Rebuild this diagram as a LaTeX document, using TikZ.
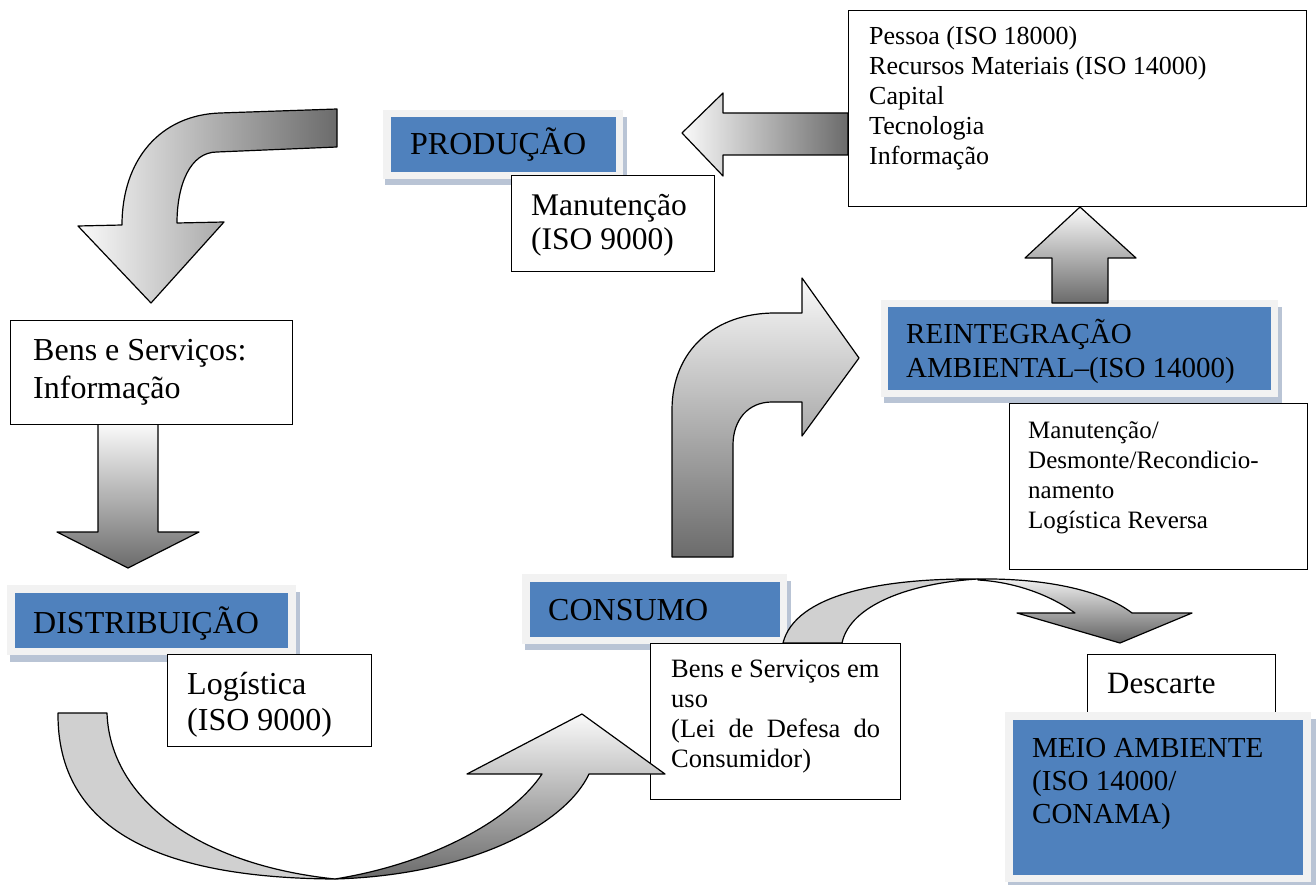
\documentclass[tikz,border=0pt]{standalone}
\usepackage{fontspec}
\setmainfont{Liberation Serif}
\definecolor{boxblue}{HTML}{4F81BD}
\definecolor{framegray}{HTML}{F2F2F2}
\definecolor{shadowblue}{HTML}{B9C4D5}
\definecolor{backgray}{HTML}{D0D0D0}
\definecolor{arrowlight}{HTML}{FAFAFA}
\definecolor{arrowdark}{HTML}{6B6B6B}
\tikzset{
  wbox/.style={draw=black, line width=1.4pt, fill=white, inner sep=0pt, anchor=north west},
  bbox/.style={fill=boxblue, inner sep=0pt, anchor=north west},
  bframe/.style={fill=framegray},
  shadowstrip/.style={fill=shadowblue},
  barrow/.style={draw=black, line width=1.2pt, line join=round},
  vgrad/.style={barrow, top color=arrowlight, bottom color=arrowdark},
  hgrad/.style={barrow, left color=arrowlight, right color=arrowdark},
  backface/.style={barrow, fill=backgray},
  txt/.style={inner sep=0pt, anchor=base west},
  sizeL/.style={txt, font=\fontsize{32}{38}\selectfont},
  sizeM/.style={txt, font=\fontsize{29}{34}\selectfont},
  sizeS/.style={txt, font=\fontsize{26}{30}\selectfont},
}
\begin{document}
\begin{tikzpicture}[x=1pt, y=-1pt]
\useasboundingbox (0,0) rectangle (1316,885);

% ---- blue title boxes: shadow, light frame, blue panel
\fill[shadowstrip] (385,117) rectangle (627,185);
\fill[bframe] (383,110) rectangle (623,179);
\node[bbox, minimum width=225pt, minimum height=55pt] (producao) at (391,117) {};

\fill[shadowstrip] (10,592) rectangle (300,662);
\fill[bframe] (7,585) rectangle (296,655);
\node[bbox, minimum width=273pt, minimum height=55pt] (distribuicao) at (15,593) {};

\fill[shadowstrip] (525,581) rectangle (791,650);
\fill[bframe] (522,574) rectangle (787,644);
\node[bbox, minimum width=250pt, minimum height=55pt] (consumo) at (530,582) {};

\fill[shadowstrip] (884,307) rectangle (1282,403);
\fill[bframe] (881,300) rectangle (1278,397);
\node[bbox, minimum width=383pt, minimum height=83pt] (reintegracao) at (888,307) {};

% ---- block arrows
% curved arrow from the top, turning down towards "Bens e Serviços"
\shadedraw[hgrad] (337,109) -- (220,113) .. controls (160,115) and (122,160) .. (122,225)
  -- (78,226) -- (151,303) -- (224,222) -- (177,223)
  .. controls (177,185) and (190,152) .. (217,152) -- (337,147) -- cycle;
% straight arrow down to DISTRIBUIÇÃO
\shadedraw[vgrad] (98,424) -- (98,532) -- (57,532) -- (128,568) -- (199,532)
  -- (158,532) -- (158,424) -- cycle;
% curved arrow from CONSUMO up to REINTEGRAÇÃO
\shadedraw[vgrad] (672,557) -- (672,410) .. controls (672,350) and (715,313) .. (775,313)
  -- (802,313) -- (802,278) -- (859,358) -- (802,436) -- (802,402) -- (772,402)
  .. controls (748,402) and (733,420) .. (733,445) -- (733,557) -- cycle;
% arrow up to the resources box
\shadedraw[vgrad] (1052,303) -- (1052,258) -- (1025,258) -- (1080,207) -- (1136,258)
  -- (1108,258) -- (1108,303) -- cycle;
% arrow left to PRODUÇÃO
\shadedraw[hgrad] (848,113) -- (723,113) -- (723,93) -- (682,133) -- (723,176)
  -- (723,155) -- (848,155) -- cycle;
% arc from the consumption box down to Descarte
\filldraw[backface] (783,643) .. controls (795,595) and (880,578) .. (978,579)
  .. controls (910,583) and (850,605) .. (842,643) -- cycle;
\shadedraw[barrow, top color=framegray, bottom color=arrowdark!90!black]
  (978,579) .. controls (1050,578) and (1105,592) .. (1132,613)
  -- (1192,613) -- (1120,643) -- (1017,613) -- (1075,613)
  .. controls (1050,595) and (1015,582) .. (978,580) -- cycle;

% ---- white text boxes
\node[wbox, minimum width=458pt, minimum height=196pt] (recursos) at (848,10) {};
\node[wbox, minimum width=203pt, minimum height=96pt] (manut) at (511,175) {};
\node[wbox, minimum width=282pt, minimum height=104pt] (bens) at (10,320) {};
\node[wbox, minimum width=204pt, minimum height=92pt] (logistica) at (167,654) {};
\node[wbox, minimum width=250pt, minimum height=156pt] (emuso) at (650,643) {};
\node[wbox, minimum width=298pt, minimum height=166pt] (desmonte) at (1009,403) {};
\node[wbox, minimum width=188pt, minimum height=70pt] (descarte) at (1087,654) {};

% MEIO AMBIENTE panel sits over the lower part of Descarte
\fill[shadowstrip] (1008,719) rectangle (1316,885);
\fill[bframe] (1005,712) rectangle (1311,882);
\node[bbox, minimum width=290pt, minimum height=155pt] (meio) at (1013,720) {};

% curved arrow from DISTRIBUIÇÃO round to the consumption box
\filldraw[backface] (58,713) -- (107,713) .. controls (110,800) and (200,865) .. (335,879)
  .. controls (160,878) and (57,830) .. (58,713) -- cycle;
\shadedraw[vgrad] (335,879) .. controls (440,862) and (515,815) .. (542,774)
  -- (467,774) -- (582,714) -- (665,774) -- (589,774)
  .. controls (565,825) and (470,875) .. (335,879) -- cycle;

% ---- texts
\node[sizeL] (t-producao) at (410,155) {PRODUÇÃO};
\node[sizeL] (t-distribuicao) at (33,633) {DISTRIBUIÇÃO};
\node[sizeL] (t-consumo) at (548,620) {CONSUMO};
\node[sizeM] (t-reintegracao) at (906,343)
  {\begin{tabular}[t]{@{}l@{}}REINTEGRAÇÃO\\AMBIENTAL–(ISO 14000)\end{tabular}};
\node[txt, font=\fontsize{29}{33}\selectfont] (t-meio) at (1032,757)
  {\begin{tabular}[t]{@{}l@{}}MEIO AMBIENTE\\(ISO 14000/\\CONAMA)\end{tabular}};
\node[sizeS] (t-recursos) at (869,45)
  {\begin{tabular}[t]{@{}l@{}}Pessoa (ISO 18000)\\Recursos Materiais (ISO 14000)\\Capital\\Tecnologia\\Informação\end{tabular}};
\node[txt, font=\fontsize{31.5}{34}\selectfont] (t-manut) at (531,216)
  {\begin{tabular}[t]{@{}l@{}}Manutenção\\(ISO 9000)\end{tabular}};
\node[txt, font=\fontsize{32}{38}\selectfont] (t-bens) at (33,360)
  {\begin{tabular}[t]{@{}l@{}}Bens e Serviços:\\Informação\end{tabular}};
\node[txt, font=\fontsize{32}{36}\selectfont] (t-logistica) at (187,694)
  {\begin{tabular}[t]{@{}l@{}}Logística\\(ISO 9000)\end{tabular}};
\node[txt, font=\fontsize{26.5}{30}\selectfont] (t-emuso) at (671,677)
  {\begin{tabular}[t]{@{}l@{}}Bens e Serviços em\\uso\\\makebox[209pt][s]{(Lei de Defesa do}\\Consumidor)\end{tabular}};
\node[txt, font=\fontsize{25}{30}\selectfont] (t-desmonte) at (1028,438)
  {\begin{tabular}[t]{@{}l@{}}Manutenção/\\Desmonte/Recondicio-\\namento\\Logística Reversa\end{tabular}};
\node[txt, font=\fontsize{31}{36}\selectfont] (t-descarte) at (1107,693) {Descarte};
\end{tikzpicture}
\end{document}
